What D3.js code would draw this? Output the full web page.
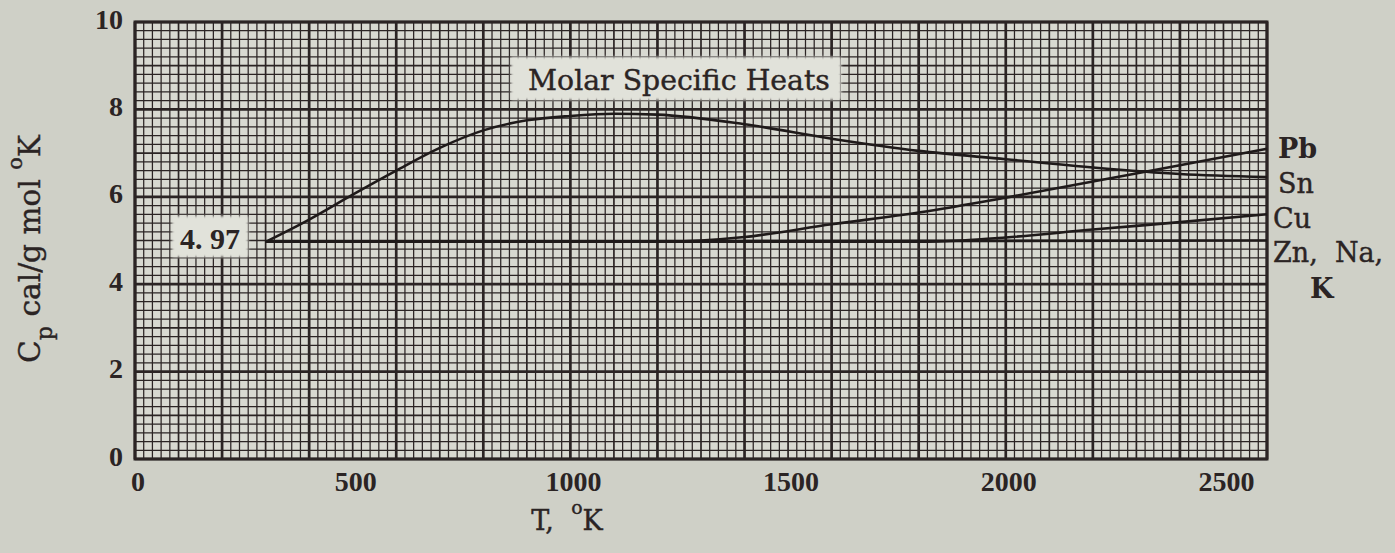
<!DOCTYPE html>
<html><head><meta charset="utf-8">
<script src="https://cdn.jsdelivr.net/npm/d3@7"></script>
<style>body{margin:0;background:#cfd0c7;} svg{display:block}</style>
</head><body><svg id="c" width="1395" height="553"></svg>
<script>
// ---------- data ----------
const xTickLabels = [0, 500, 1000, 1500, 2000, 2500];
const yTickLabels = [0, 2, 4, 6, 8, 10];

const tSn  = [300, 400, 500, 600, 700, 800, 900, 1000, 1100, 1200, 1400, 1600, 1800, 2000, 2200, 2400, 2600];
const cpSn = [4.97, 5.48, 6.05, 6.6, 7.12, 7.52, 7.75, 7.85, 7.9, 7.88, 7.66, 7.33, 7.05, 6.86, 6.67, 6.52, 6.45];

const tPb  = [300, 1200, 1300, 1400, 1600, 1800, 2000, 2200, 2400, 2600];
const cpPb = [4.97, 4.97, 5.0, 5.08, 5.37, 5.64, 5.98, 6.35, 6.72, 7.1];

const tCu  = [300, 1800, 1900, 2000, 2200, 2400, 2600];
const cpCu = [4.97, 4.97, 5.0, 5.07, 5.25, 5.42, 5.6];

const tZn  = [300, 2600];
const cpZn = [4.97, 5.0];

const seriesLabels = ["Pb", "Sn", "Cu", "Zn,  Na,", "K"];
const startValueLabel = "4. 97";
const chartTitle = "Molar Specific Heats";

// ---------- layout ----------
const svg = d3.select("#c");
const L = 135, R = 1267, T = 22, B = 459;
const x = d3.scaleLinear().domain([0, 2600]).range([L, R]);
const y = d3.scaleLinear().domain([0, 10]).range([B, T]);
const ink = "#2b2424";
const serifNum = "'Liberation Serif', 'Times New Roman', serif";
const serifTxt = "'DejaVu Serif', serif";

svg.append("rect").attr("width", 1395).attr("height", 553).attr("fill", "#cfd0c7");
svg.append("rect").attr("x", L).attr("y", T).attr("width", R - L).attr("height", B - T).attr("fill", "#d8d9d1");

const defs = svg.append("defs");
defs.append("filter").attr("id", "soft").append("feGaussianBlur").attr("stdDeviation", 1.6);

// grid
const g = svg.append("g");
function vlines(step, w, skip) {
  const vals = d3.range(0, 2600 + 1e-6, step).filter(v => !skip || Math.abs(v / skip - Math.round(v / skip)) > 1e-6);
  g.selectAll(null).data(vals).enter().append("line")
    .attr("x1", d => x(d)).attr("x2", d => x(d)).attr("y1", T).attr("y2", B)
    .attr("stroke", ink).attr("stroke-width", w);
}
function hlines(step, w, skip) {
  const vals = d3.range(0, 10 + 1e-6, step).filter(v => !skip || Math.abs(v / skip - Math.round(v / skip)) > 1e-6);
  g.selectAll(null).data(vals).enter().append("line")
    .attr("y1", d => y(d)).attr("y2", d => y(d)).attr("x1", L).attr("x2", R)
    .attr("stroke", ink).attr("stroke-width", w);
}
vlines(20, 1.25, 100); hlines(0.2, 1.25, 1);
vlines(100, 1.7, 200); hlines(1, 1.7, 2);
vlines(200, 2.7); hlines(2, 2.7);
svg.append("rect").attr("x", L).attr("y", T).attr("width", R - L).attr("height", B - T)
  .attr("fill", "none").attr("stroke", ink).attr("stroke-width", 3);

// fit helper
function fit(sel, w) {
  sel.style("font-size", "20px");
  const l = sel.node().getComputedTextLength();
  sel.style("font-size", (20 * w / l) + "px");
  return sel;
}

// title box
svg.append("rect").attr("x", 511).attr("y", 57).attr("width", 330).attr("height", 43)
  .attr("fill", "#e1e2da").attr("filter", "url(#soft)");
fit(svg.append("text").attr("x", 679).attr("y", 80).attr("text-anchor", "middle")
  .attr("dominant-baseline", "central").attr("font-family", serifTxt).attr("fill", ink)
  .attr("font-weight", "normal").style("paint-order", "stroke").attr("stroke", ink).attr("stroke-width", 0.4)
  .text(chartTitle), 302);

// 4.97 box
svg.append("rect").attr("x", 172).attr("y", 216).attr("width", 76).attr("height", 41)
  .attr("fill", "#e1e2da").attr("filter", "url(#soft)");

// curves
const line = d3.line().x(d => x(d[0])).y(d => y(d[1])).curve(d3.curveMonotoneX);
[[tZn, cpZn], [tCu, cpCu], [tPb, cpPb], [tSn, cpSn]].forEach(([ts, cs]) => {
  svg.append("path").datum(ts.map((t, i) => [t, cs[i]])).attr("d", line)
    .attr("fill", "none").attr("stroke", "#1f1a1a").attr("stroke-width", 2.6);
});

fit(svg.append("text").attr("x", 210).attr("y", 238).attr("text-anchor", "middle")
  .attr("dominant-baseline", "central").attr("font-family", serifNum).attr("font-weight", "bold")
  .attr("fill", ink).text(startValueLabel), 60);

// tick labels
svg.selectAll(null).data(yTickLabels).enter().append("text")
  .attr("x", 123).attr("y", d => y(d) - 3).attr("text-anchor", "end").attr("dominant-baseline", "central")
  .attr("font-family", serifNum).attr("font-weight", "bold").attr("font-size", 28).attr("fill", ink)
  .text(d => d);
svg.selectAll(null).data(xTickLabels).enter().append("text")
  .attr("x", d => x(d) + 3).attr("y", 481).attr("text-anchor", "middle").attr("dominant-baseline", "central")
  .attr("font-family", serifNum).attr("font-weight", "bold").attr("font-size", 28).attr("fill", ink)
  .text(d => d);

// series labels
const labelPos = [[1278, 148, "bold"], [1278, 183, "normal"], [1273, 218, "normal"], [1273, 252, "normal"], [1310, 288, "bold"]];
seriesLabels.forEach((s, i) => {
  svg.append("text").attr("x", labelPos[i][0]).attr("y", labelPos[i][1]).attr("dominant-baseline", "central")
    .attr("font-family", serifTxt).attr("font-weight", labelPos[i][2]).attr("font-size", 27)
    .attr("fill", ink).attr("stroke", ink).attr("stroke-width", labelPos[i][2] === "bold" ? 0 : 0.4)
    .style("white-space", "pre").text(s);
});

// y axis title
const yt = svg.append("text").attr("transform", "translate(40,249) rotate(-90)").attr("text-anchor", "middle")
  .attr("font-family", serifTxt).attr("fill", ink).attr("stroke", ink).attr("stroke-width", 0.4)
  .style("white-space", "pre");
yt.append("tspan").text("C");
yt.append("tspan").style("font-size", "0.75em").attr("dy", "0.55em").text("p");
yt.append("tspan").attr("dy", "-0.41em").text(" cal/g mol ");
yt.append("tspan").style("font-size", "0.7em").attr("dy", "-0.85em").text("o");
yt.append("tspan").attr("dy", "0.6em").text("K");
fit(yt, 228);

// x axis title
const xt = svg.append("text").attr("x", 567).attr("y", 530).attr("text-anchor", "middle")
  .attr("font-family", serifTxt).attr("fill", ink).attr("stroke", ink).attr("stroke-width", 0.4)
  .style("white-space", "pre");
xt.append("tspan").text("T,  ");
xt.append("tspan").style("font-size", "0.7em").attr("dy", "-0.85em").text("o");
xt.append("tspan").attr("dy", "0.6em").text("K");
xt.style("font-size", "27px");
</script></body></html>
